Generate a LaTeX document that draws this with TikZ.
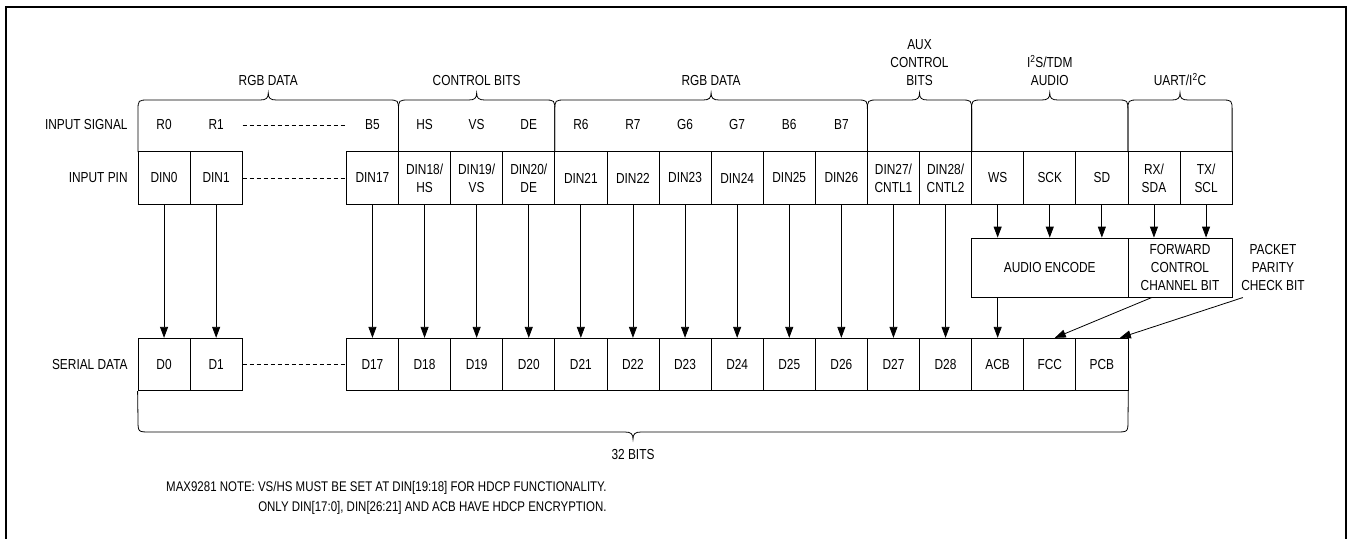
\documentclass[tikz,border=0pt]{standalone}
\usepackage{fontspec}
\setmainfont{Liberation Sans}[FakeStretch=0.82]
\usetikzlibrary{arrows.meta}

\begin{document}
\begin{tikzpicture}[x=1pt, y=-1pt, >={Triangle[length=11pt,width=8pt]}, line width=0.8pt,
    every node/.style={font=\fontsize{14.5}{18}\selectfont, inner sep=0pt},
    cell/.style={draw, minimum width=52.1pt, minimum height=52.5pt, align=center},
    box/.style={draw, minimum height=59pt, align=center},
    dots/.style={dash pattern=on 4pt off 3pt}]
    \useasboundingbox (0,0) rectangle (1351,538);
    \draw[line width=2pt] (6,560) -- (6,7) -- (1346,7) -- (1346,560);

    \node[anchor=east] (lsig) at (128,125) {INPUT SIGNAL};
    \node[anchor=east] (lpin) at (128,178) {INPUT PIN};
    \node[anchor=east] (lser) at (128,364.5) {SERIAL DATA};

    % group braces above the input signals
    \foreach \a/\b/\lbl [count=\k] in {138/398.5/{RGB DATA}, 398.5/554.8/{CONTROL BITS}, 554.8/867.4/{RGB DATA},
        867.4/971.6/{AUX\\CONTROL\\BITS}, 971.6/1127.9/{I\textsuperscript{2}S/TDM\\AUDIO}, 1127.9/1232.1/{UART/I\textsuperscript{2}C}} {
        \pgfmathsetmacro\m{(\a+\b)/2}
        \draw (\a,152) -- (\a,111) .. controls (\a,100) .. ({\a+11},100) -- ({\m-8},100)
            .. controls ({\m-2},100) and (\m,98) .. (\m,93) .. controls (\m,98) and ({\m+2},100) .. ({\m+8},100)
            -- ({\b-11},100) .. controls (\b,100) .. (\b,111) -- (\b,152);
        \node[anchor=south, align=center] (grp\k) at (\m,86) {\lbl};
    }

    \foreach \i/\txt in {0/R0, 1/R1, 4/B5, 5/HS, 6/VS, 7/DE, 8/R6, 9/R7, 10/G6, 11/G7, 12/B6, 13/B7}
        \node (sig\i) at ({164.05+52.1*\i},125) {\txt};

    \foreach \i/\txt in {0/DIN0, 1/DIN1, 4/DIN17, 5/{DIN18/\\HS}, 6/{DIN19/\\VS}, 7/{DIN20/\\DE}, 8/DIN21, 9/DIN22,
        10/DIN23, 11/DIN24, 12/DIN25, 13/DIN26, 14/{DIN27/\\CNTL1}, 15/{DIN28/\\CNTL2}}
        \node[cell] (pin\i) at ({164.05+52.1*\i},178) {\txt};
    \foreach \i/\n/\txt in {16/ws/WS, 17/sck/SCK, 18/sd/SD, 19/rx/{RX/\\SDA}, 20/tx/{TX/\\SCL}}
        \node[cell] (\n) at ({164.05+52.1*\i},178) {\txt};

    \foreach \i/\d in {0/0, 1/1, 4/17, 5/18, 6/19, 7/20, 8/21, 9/22, 10/23, 11/24, 12/25, 13/26, 14/27, 15/28}
        \node[cell] (ser\i) at ({164.05+52.1*\i},364.5) {D\d};
    \foreach \i/\n/\txt in {16/acb/ACB, 17/fcc/FCC, 18/pcb/PCB}
        \node[cell] (\n) at ({164.05+52.1*\i},364.5) {\txt};

    \draw[dots] (pin1.east |- sig1) -- (pin4.west |- sig4);
    \draw[dots] (pin1) -- (pin4);
    \draw[dots] (ser1) -- (ser4);

    \foreach \i in {0,1,4,5,...,15}
        \draw[->] (pin\i) -- (ser\i);

    \node[box, minimum width=156.3pt] (enc) at (1049.75,267.5) {AUDIO ENCODE};
    \node[box, minimum width=104.2pt] (fwd) at (1180,267.5) {FORWARD\\CONTROL\\CHANNEL BIT};
    \node[align=center] (pkt) at (1273,268) {PACKET\\PARITY\\CHECK BIT};

    \foreach \n in {ws,sck,sd}
        \draw[->] (\n) -- (\n |- enc.north);
    \foreach \n in {rx,tx}
        \draw[->] (\n) -- (\n |- fwd.north);
    \draw[->] (enc.south -| acb) -- (acb);
    \draw[->] ([xshift=-28pt]fwd.south) -- ([xshift=5pt]fcc.north);
    \draw[->] ([shift={(2,6)}]pkt.south west) -- ([xshift=18pt]pcb.north);

    % brace under the serial word
    \draw (ser0.south west) -- (138,420) .. controls (138,432) .. (150,432) -- (625,432)
        .. controls (631,432) and (633,434) .. (633,439) .. controls (633,434) and (635,432) .. (641,432)
        -- (1116,432) .. controls (1128,432) .. (1128,420) -- (pcb.south east);
    \node (bits) at (633,455) {32 BITS};

    \node[anchor=east, align=right, font=\fontsize{14}{20}\selectfont] (note) at (607,498)
        {MAX9281 NOTE: VS/HS MUST BE SET AT DIN[19:18] FOR HDCP FUNCTIONALITY.\\
         ONLY DIN[17:0], DIN[26:21] AND ACB HAVE HDCP ENCRYPTION.};
\end{tikzpicture}
\end{document}
